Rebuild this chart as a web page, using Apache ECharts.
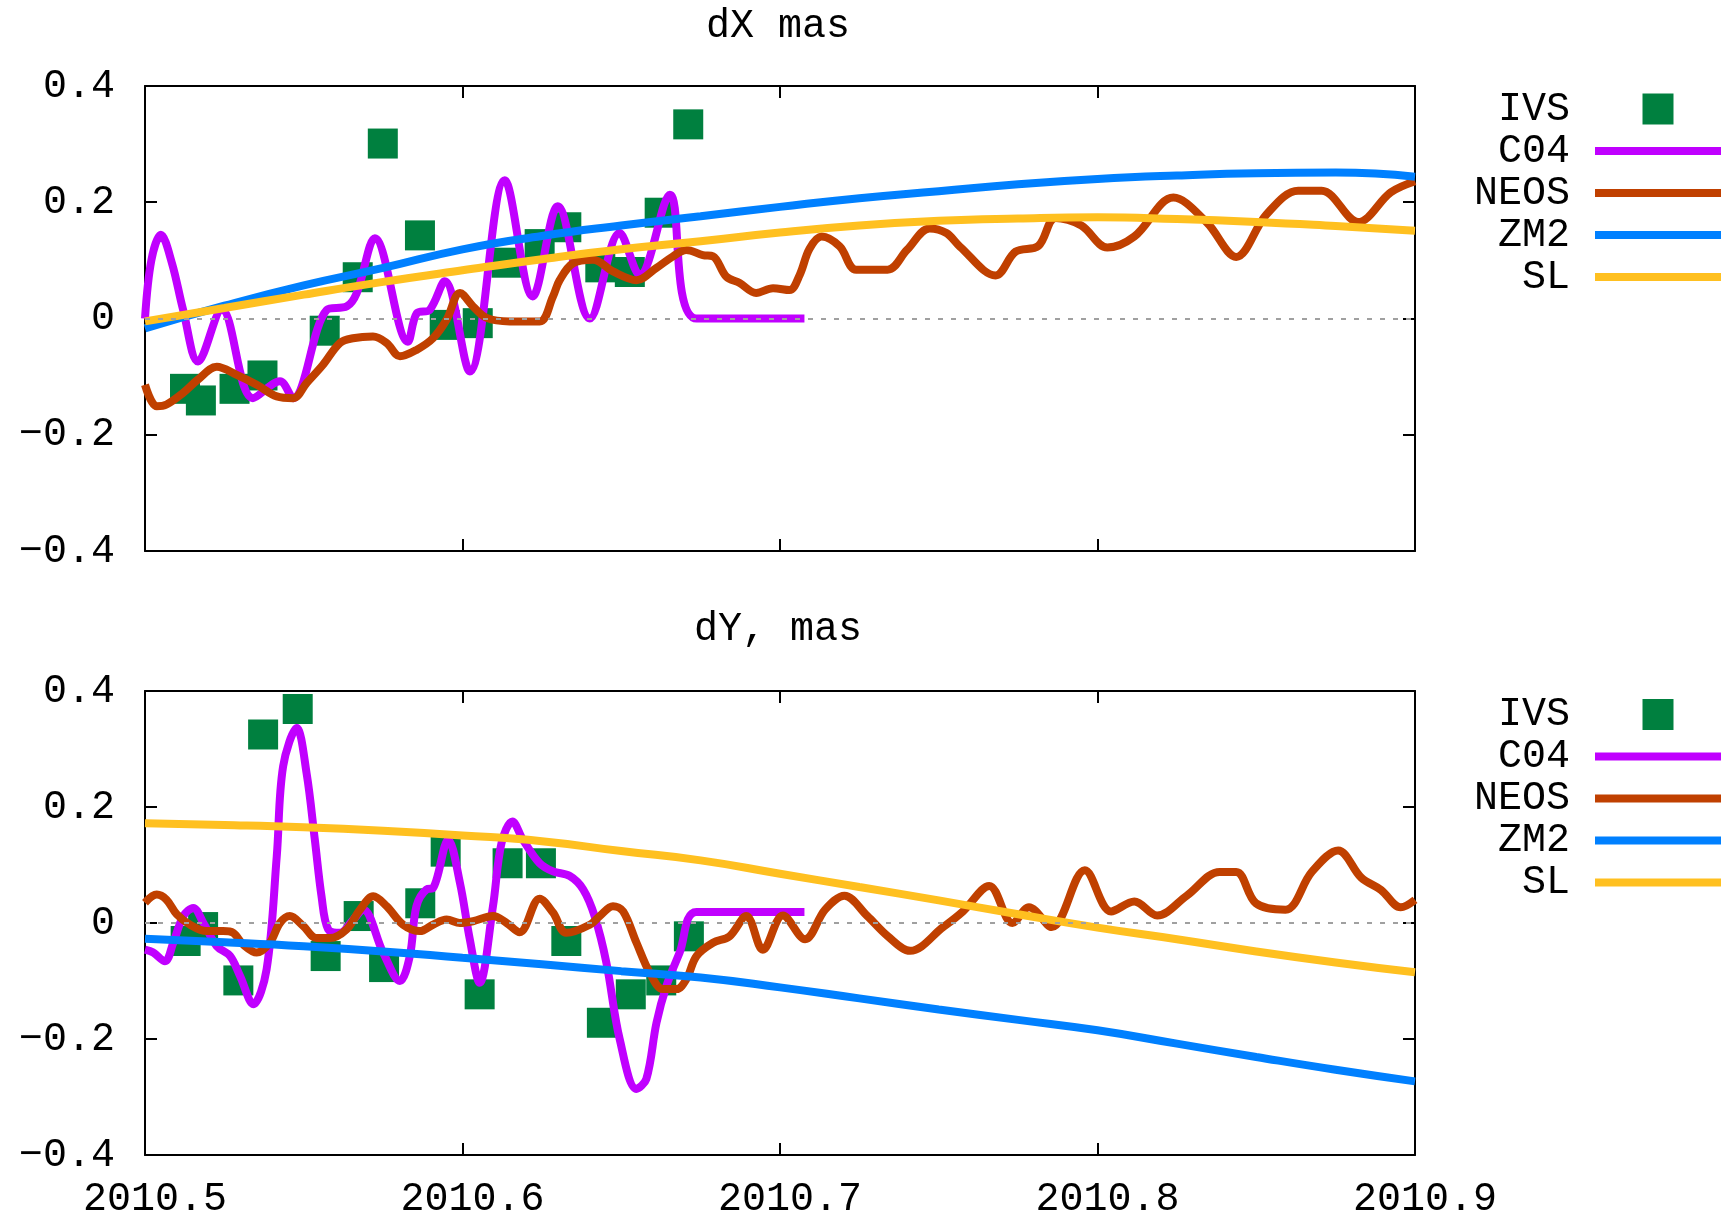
<!DOCTYPE html>
<html><head><meta charset="utf-8">
<script src="https://cdn.jsdelivr.net/npm/echarts@6/dist/echarts.min.js"></script>
<style>html,body{margin:0;padding:0;background:#fff}#c{width:1733px;height:1219px}</style>
</head><body><div id="c"></div>
<script>
// ---- tick labels / categories ----
const xTicks = [2010.5, 2010.6, 2010.7, 2010.8, 2010.9];
const yTicks = [-0.4, -0.2, 0, 0.2, 0.4];
const panelTitles = ['dX mas', 'dY, mas'];
const seriesNames = ['IVS', 'C04', 'NEOS', 'ZM2', 'SL'];

// ---- dX panel ----
const dxIVS = [[2010.5126,-0.121],[2010.5176,-0.141],[2010.5282,-0.121],[2010.5370,-0.098],[2010.5566,-0.021],[2010.5670,0.071],[2010.5749,0.301],[2010.5866,0.143],[2010.5944,-0.011],[2010.6048,-0.008],[2010.6139,0.096],[2010.6243,0.128],[2010.6327,0.157],[2010.6434,0.088],[2010.6527,0.080],[2010.6621,0.182],[2010.6711,0.334]];
const dxC04 = [[2010.5000,0.000],[2010.5020,0.100],[2010.5050,0.144],[2010.5085,0.095],[2010.5120,0.015],[2010.5167,-0.074],[2010.5242,0.015],[2010.5340,-0.137],[2010.5425,-0.108],[2010.5466,-0.137],[2010.5573,0.015],[2010.5636,0.021],[2010.5667,0.044],[2010.5724,0.138],[2010.5828,-0.040],[2010.5856,0.009],[2010.5897,0.015],[2010.5944,0.064],[2010.6023,-0.091],[2010.6133,0.238],[2010.6221,0.038],[2010.6300,0.193],[2010.6401,0.000],[2010.6495,0.147],[2010.6558,0.075],[2010.6653,0.213],[2010.6737,0.000],[2010.7077,0.000]];
const dxNEOS = [[2010.5000,-0.114],[2010.5037,-0.151],[2010.5068,-0.148],[2010.5120,-0.128],[2010.5167,-0.105],[2010.5226,-0.083],[2010.5289,-0.097],[2010.5352,-0.114],[2010.5415,-0.134],[2010.5467,-0.137],[2010.5509,-0.111],[2010.5560,-0.080],[2010.5614,-0.042],[2010.5655,-0.034],[2010.5718,-0.031],[2010.5761,-0.042],[2010.5803,-0.065],[2010.5855,-0.054],[2010.5907,-0.034],[2010.5950,-0.002],[2010.5992,0.044],[2010.6033,0.021],[2010.6076,0.001],[2010.6149,-0.005],[2010.6243,-0.005],[2010.6285,0.038],[2010.6306,0.066],[2010.6348,0.095],[2010.6411,0.101],[2010.6474,0.081],[2010.6548,0.066],[2010.6611,0.087],[2010.6663,0.107],[2010.6705,0.118],[2010.6757,0.109],[2010.6789,0.107],[2010.6831,0.072],[2010.6873,0.061],[2010.6925,0.044],[2010.6978,0.052],[2010.7030,0.049],[2010.7062,0.075],[2010.7093,0.120],[2010.7131,0.141],[2010.7188,0.124],[2010.7240,0.084],[2010.7339,0.084],[2010.7400,0.118],[2010.7471,0.155],[2010.7524,0.147],[2010.7566,0.124],[2010.7679,0.074],[2010.7742,0.115],[2010.7814,0.125],[2010.7868,0.173],[2010.7949,0.160],[2010.8031,0.122],[2010.8116,0.141],[2010.8239,0.208],[2010.8343,0.166],[2010.8437,0.106],[2010.8532,0.179],[2010.8632,0.220],[2010.8706,0.220],[2010.8821,0.166],[2010.8924,0.217],[2010.9000,0.236]];
const dxZM2 = [[2010.500,-0.017],[2010.525,0.022],[2010.550,0.057],[2010.575,0.087],[2010.600,0.119],[2010.625,0.142],[2010.650,0.160],[2010.675,0.176],[2010.700,0.192],[2010.725,0.207],[2010.750,0.219],[2010.775,0.231],[2010.800,0.240],[2010.825,0.246],[2010.850,0.250],[2010.875,0.251],[2010.900,0.244]];
const dxSL = [[2010.500,-0.005],[2010.525,0.018],[2010.550,0.041],[2010.575,0.063],[2010.600,0.083],[2010.625,0.102],[2010.650,0.119],[2010.675,0.133],[2010.700,0.148],[2010.725,0.160],[2010.750,0.168],[2010.775,0.172],[2010.800,0.174],[2010.825,0.171],[2010.850,0.166],[2010.875,0.159],[2010.900,0.151]];

// ---- dY panel ----
const dyIVS = [[2010.5128,-0.031],[2010.5183,-0.007],[2010.5294,-0.099],[2010.5372,0.325],[2010.5481,0.369],[2010.5569,-0.057],[2010.5673,0.012],[2010.5753,-0.076],[2010.5867,0.034],[2010.5947,0.123],[2010.6054,-0.123],[2010.6142,0.103],[2010.6247,0.103],[2010.6327,-0.031],[2010.6439,-0.172],[2010.6530,-0.123],[2010.6626,-0.099],[2010.6713,-0.023]];
const dyC04 = [[2010.5000,-0.046],[2010.5026,-0.051],[2010.5063,-0.066],[2010.5089,-0.034],[2010.5121,0.012],[2010.5152,0.026],[2010.5184,0.000],[2010.5226,-0.040],[2010.5268,-0.057],[2010.5299,-0.091],[2010.5341,-0.140],[2010.5383,-0.080],[2010.5415,0.115],[2010.5435,0.270],[2010.5478,0.336],[2010.5509,0.258],[2010.5535,0.143],[2010.5556,0.046],[2010.5577,-0.011],[2010.5614,-0.017],[2010.5656,0.006],[2010.5687,0.023],[2010.5750,-0.051],[2010.5803,-0.100],[2010.5834,-0.057],[2010.5855,0.029],[2010.5887,0.058],[2010.5907,0.060],[2010.5955,0.143],[2010.5992,0.069],[2010.6023,-0.028],[2010.6054,-0.103],[2010.6096,0.029],[2010.6123,0.138],[2010.6157,0.175],[2010.6191,0.143],[2010.6243,0.103],[2010.6285,0.089],[2010.6338,0.081],[2010.6380,0.058],[2010.6416,0.012],[2010.6453,-0.068],[2010.6495,-0.200],[2010.6548,-0.286],[2010.6579,-0.269],[2010.6611,-0.172],[2010.6642,-0.109],[2010.6684,-0.051],[2010.6737,0.019],[2010.7077,0.019]];
const dyNEOS = [[2010.5000,0.035],[2010.5037,0.049],[2010.5068,0.040],[2010.5100,0.015],[2010.5142,-0.003],[2010.5194,-0.014],[2010.5246,-0.014],[2010.5278,-0.017],[2010.5309,-0.037],[2010.5352,-0.051],[2010.5393,-0.034],[2010.5425,0.000],[2010.5456,0.012],[2010.5498,-0.005],[2010.5540,-0.026],[2010.5582,-0.026],[2010.5635,-0.011],[2010.5677,0.023],[2010.5719,0.046],[2010.5761,0.029],[2010.5813,-0.003],[2010.5866,-0.014],[2010.5907,-0.003],[2010.5950,0.006],[2010.5992,0.000],[2010.6033,0.003],[2010.6096,0.012],[2010.6139,0.000],[2010.6180,-0.016],[2010.6243,0.042],[2010.6285,0.018],[2010.6327,-0.017],[2010.6401,-0.003],[2010.6432,0.012],[2010.6474,0.029],[2010.6506,0.020],[2010.6548,-0.034],[2010.6590,-0.086],[2010.6631,-0.114],[2010.6674,-0.114],[2010.6705,-0.097],[2010.6737,-0.057],[2010.6789,-0.034],[2010.6841,-0.023],[2010.6894,0.012],[2010.6946,-0.046],[2010.7009,0.013],[2010.7079,-0.028],[2010.7142,0.023],[2010.7203,0.047],[2010.7275,0.012],[2010.7340,-0.023],[2010.7410,-0.048],[2010.7514,-0.007],[2010.7576,0.020],[2010.7659,0.064],[2010.7732,0.000],[2010.7784,0.027],[2010.7856,-0.007],[2010.7960,0.091],[2010.8043,0.020],[2010.8116,0.037],[2010.8188,0.013],[2010.8281,0.047],[2010.8385,0.088],[2010.8437,0.088],[2010.8499,0.034],[2010.8592,0.023],[2010.8675,0.088],[2010.8758,0.125],[2010.8831,0.078],[2010.8893,0.057],[2010.8955,0.027],[2010.9000,0.040]];
const dyZM2 = [[2010.500,-0.027],[2010.525,-0.033],[2010.550,-0.040],[2010.575,-0.049],[2010.600,-0.060],[2010.625,-0.071],[2010.650,-0.083],[2010.675,-0.094],[2010.700,-0.111],[2010.725,-0.130],[2010.750,-0.149],[2010.775,-0.167],[2010.800,-0.185],[2010.825,-0.208],[2010.850,-0.231],[2010.875,-0.253],[2010.900,-0.273]];
const dySL = [[2010.500,0.172],[2010.525,0.169],[2010.550,0.165],[2010.575,0.159],[2010.600,0.151],[2010.625,0.141],[2010.650,0.124],[2010.675,0.108],[2010.700,0.085],[2010.725,0.062],[2010.750,0.039],[2010.775,0.015],[2010.800,-0.008],[2010.825,-0.028],[2010.850,-0.049],[2010.875,-0.068],[2010.900,-0.085]];

const panels = [
  {IVS: dxIVS, C04: dxC04, NEOS: dxNEOS, ZM2: dxZM2, SL: dxSL},
  {IVS: dyIVS, C04: dyC04, NEOS: dyNEOS, ZM2: dyZM2, SL: dySL}
];

const colors = {IVS:'#00803f', C04:'#c000ff', NEOS:'#c04000', ZM2:'#0080ff', SL:'#ffc020'};
const FONT = 'Liberation Mono';
const gridTops = [86, 691];
const gridH = 465;

function yFmt(v){
  if (Math.abs(v) < 1e-9) return '0';
  return (v < 0 ? '\u2212' : '') + Math.abs(v).toFixed(1);
}

const frameLine = {show:true, onZero:false, lineStyle:{color:'#000', width:2}};
const tick = {show:true, inside:true, length:12, lineStyle:{color:'#000', width:2}};
const lbl = {color:'#000', fontFamily:FONT, fontSize:40};

const grid = [], xAxis = [], yAxis = [], series = [], title = [], legend = [];
[0,1].forEach(p => {
  grid.push({left:145, top:gridTops[p], width:1270, height:gridH});
  ['bottom','top'].forEach(pos => {
    xAxis.push({gridIndex:p, type:'value', position:pos,
      min:xTicks[0], max:xTicks[xTicks.length-1], interval:0.1,
      axisLine:frameLine, axisTick:tick, splitLine:{show:false},
      axisLabel: (p===1 && pos==='bottom') ? Object.assign({show:true, margin:24, padding:[0,0,0,20], formatter:v=>v.toFixed(1)}, lbl) : {show:false}
    });
  });
  ['left','right'].forEach(pos => {
    yAxis.push({gridIndex:p, type:'value', position:pos,
      min:yTicks[0], max:yTicks[yTicks.length-1], interval:0.2,
      axisLine:frameLine, axisTick:tick, splitLine:{show:false},
      axisLabel: pos==='left' ? Object.assign({show:true, margin:30, formatter:yFmt}, lbl) : {show:false}
    });
  });
  title.push({text:panelTitles[p], left:778, top: p===0 ? 6 : 609, textAlign:'center', padding:0,
    textStyle:{fontFamily:FONT, fontSize:40, fontWeight:'normal', color:'#000', lineHeight:40}});
  legend.push({orient:'vertical', align:'right', right:12, top: p===0 ? 89 : 694.5, padding:0,
    itemWidth:126, itemHeight:31, itemGap:2, selectedMode:false,
    textStyle:{fontFamily:FONT, fontSize:40, color:'#000', lineHeight:31, padding:[0,20,0,0]},
    data: seriesNames.map(n => n==='IVS'
      ? {name:n, icon:'path://M0 0H10V10H0Z', itemStyle:{color:colors[n], opacity:1}}
      : {name:n, icon:'path://M0 0H126V8H0Z', itemStyle:{color:colors[n], opacity:1}})
  });
  const d = panels[p];
  series.push({name:'IVS', type:'scatter', xAxisIndex:2*p, yAxisIndex:2*p, data:d.IVS,
    symbol:'rect', symbolSize:30, itemStyle:{color:colors.IVS, opacity:1},
    markLine:{silent:true, symbol:['none','none'], label:{show:false},
      lineStyle:{color:'#a0a0a0', width:2, type:[5,8]}, data:[{yAxis:0}]}
  });
  ['C04','NEOS','ZM2','SL'].forEach(n => {
    series.push({name:n, type:'line', xAxisIndex:2*p, yAxisIndex:2*p, data:d[n],
      symbol:'none', smooth: (n==='ZM2'||n==='SL') ? 0.5 : 0.35,
      lineStyle:{color:colors[n], width:8}, itemStyle:{color:colors[n]}});
  });
});

const chart = echarts.init(document.getElementById('c'), null, {renderer:'canvas'});
chart.setOption({animation:false, backgroundColor:'#fff', title, legend, grid, xAxis, yAxis, series});
</script></body></html>
